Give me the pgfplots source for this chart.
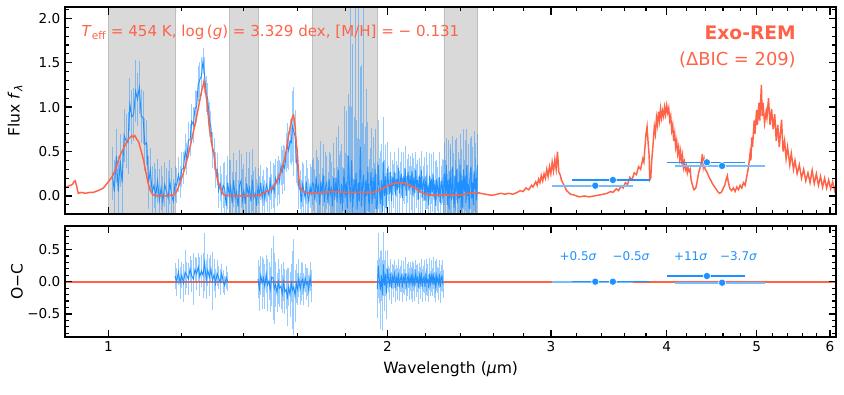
\documentclass[border=0pt]{standalone}
\usepackage{fontspec}
\setmainfont{DejaVu Sans}
\usepackage{pgfplots}
\pgfplotsset{compat=1.18}
\usepackage{pgfplotstable}
\definecolor{tomato}{RGB}{255,99,71}
\definecolor{dodger}{RGB}{30,144,255}

% observed spectrum: wavelength, flux, error
\pgfplotstableread{
l f e
1.010 0.25 0.30
1.015 0.05 0.35
1.020 0.45 0.30
1.025 0.05 0.40
1.030 0.40 0.30
1.035 0.15 0.35
1.040 0.68 0.30
1.045 0.62 0.30
1.050 0.60 0.35
1.055 1.03 0.30
1.060 0.89 0.30
1.065 0.92 0.30
1.070 1.18 0.35
1.075 1.09 0.30
1.080 1.22 0.30
1.085 0.90 0.30
1.090 0.88 0.30
1.095 0.58 0.30
1.100 0.60 0.25
1.105 0.15 0.30
1.110 0.29 0.25
1.115 0.04 0.30
1.120 0.12 0.25
1.125 0.00 0.30
1.130 0.17 0.25
1.135 -0.05 0.35
1.140 0.09 0.25
1.145 -0.07 0.30
1.150 0.13 0.25
1.155 0.06 0.25
1.160 -0.02 0.30
1.165 0.16 0.25
1.170 0.01 0.30
1.175 -0.06 0.25
1.180 0.14 0.20
1.185 0.12 0.20
1.190 0.24 0.20
1.195 0.16 0.18
1.200 0.30 0.20
1.205 0.31 0.18
1.210 0.50 0.20
1.215 0.42 0.18
1.220 0.63 0.20
1.225 0.63 0.18
1.230 0.84 0.20
1.235 0.80 0.20
1.240 0.99 0.20
1.245 1.00 0.18
1.250 1.26 0.20
1.255 1.31 0.20
1.260 1.35 0.22
1.265 1.52 0.15
1.270 1.36 0.20
1.275 1.15 0.20
1.280 1.09 0.18
1.285 0.86 0.20
1.290 0.78 0.18
1.295 0.52 0.20
1.300 0.47 0.18
1.305 0.29 0.20
1.310 0.30 0.18
1.315 0.06 0.20
1.320 0.14 0.20
1.325 0.03 0.22
1.330 0.12 0.25
1.335 0.08 0.30
1.340 -0.11 0.35
1.345 0.15 0.30
1.350 0.00 0.40
1.355 0.11 0.30
1.360 -0.08 0.35
1.365 0.18 0.30
1.370 -0.03 0.30
1.375 0.05 0.35
1.380 -0.12 0.30
1.385 0.12 0.40
1.390 0.17 0.30
1.395 -0.05 0.35
1.400 0.06 0.30
1.405 -0.09 0.30
1.410 0.14 0.35
1.415 0.01 0.30
1.420 0.09 0.40
1.425 -0.06 0.30
1.430 0.18 0.35
1.435 -0.02 0.30
1.440 0.03 0.30
1.445 -0.11 0.30
1.450 0.11 0.20
1.455 0.01 0.22
1.460 0.15 0.20
1.465 -0.03 0.25
1.470 0.09 0.20
1.475 -0.04 0.22
1.480 0.13 0.20
1.485 0.07 0.25
1.490 0.01 0.20
1.495 0.17 0.22
1.500 0.05 0.20
1.505 0.12 0.25
1.510 0.05 0.30
1.515 0.20 0.22
1.520 0.14 0.25
1.525 0.23 0.22
1.530 0.16 0.25
1.535 0.34 0.22
1.540 0.27 0.25
1.545 0.35 0.22
1.550 0.31 0.25
1.555 0.49 0.22
1.560 0.57 0.25
1.565 0.51 0.22
1.570 0.62 0.25
1.575 0.60 0.25
1.580 0.78 0.40
1.585 0.73 0.50
1.590 0.67 0.30
1.595 0.40 0.25
1.600 0.33 0.22
1.605 0.10 0.25
1.610 0.07 0.22
1.615 -0.07 0.25
1.620 0.13 0.25
1.625 0.06 0.30
1.630 -0.02 0.25
1.635 0.16 0.25
1.640 0.01 0.30
1.645 -0.06 0.25
1.650 0.11 0.25
1.655 0.03 0.30
1.660 0.15 0.25
1.665 0.13 0.30
1.670 -0.05 0.35
1.675 0.22 0.30
1.680 0.04 0.40
1.685 0.11 0.30
1.690 -0.10 0.35
1.695 0.17 0.45
1.700 0.01 0.30
1.705 0.24 0.35
1.710 -0.07 0.30
1.715 0.10 0.40
1.720 0.15 0.30
1.725 -0.08 0.35
1.730 0.19 0.30
1.735 0.02 0.45
1.740 0.08 0.30
1.745 -0.12 0.35
1.750 0.20 0.40
1.755 -0.04 0.35
1.760 0.21 0.45
1.765 -0.07 0.40
1.770 0.29 0.50
1.775 0.06 0.40
1.780 -0.09 0.60
1.785 0.14 0.45
1.790 -0.17 0.50
1.795 0.31 0.70
1.800 -0.02 0.50
1.805 0.16 0.80
1.810 -0.14 0.60
1.815 0.45 0.70
1.820 0.11 0.90
1.825 -0.07 2.20
1.830 0.40 0.60
1.835 -0.19 1.90
1.840 0.19 0.70
1.845 0.04 2.30
1.850 0.26 0.60
1.855 -0.15 0.80
1.860 0.15 2.00
1.865 -0.06 0.70
1.870 0.55 0.90
1.875 -0.12 1.60
1.880 0.12 0.70
1.885 0.24 2.30
1.890 -0.21 0.80
1.895 0.18 0.60
1.900 0.00 1.20
1.905 0.33 0.50
1.910 -0.18 0.60
1.915 0.09 0.45
1.920 0.27 0.50
1.925 -0.09 0.40
1.930 0.21 0.45
1.935 -0.03 0.40
1.940 0.30 0.45
1.945 -0.15 0.40
1.950 -0.07 0.45
1.955 0.35 0.50
1.960 0.08 0.35
1.965 -0.09 0.60
1.970 0.18 0.40
1.975 -0.18 0.55
1.980 0.39 0.50
1.985 0.00 0.40
1.990 0.22 0.35
1.995 -0.14 0.40
2.000 0.31 0.30
2.005 0.14 0.20
2.010 0.02 0.25
2.015 0.27 0.22
2.020 -0.06 0.28
2.025 0.21 0.20
2.030 0.11 0.25
2.035 0.27 0.22
2.040 0.01 0.25
2.045 0.19 0.20
2.050 0.07 0.28
2.055 0.32 0.22
2.060 0.03 0.25
2.065 0.18 0.20
2.070 0.25 0.25
2.075 -0.02 0.22
2.080 0.22 0.28
2.085 0.11 0.20
2.090 0.31 0.25
2.095 0.00 0.22
2.100 0.17 0.25
2.105 0.27 0.20
2.110 0.06 0.28
2.115 0.23 0.22
2.120 0.09 0.25
2.125 0.28 0.20
2.130 0.01 0.25
2.135 0.21 0.22
2.140 0.03 0.28
2.145 0.29 0.20
2.150 0.11 0.25
2.155 0.18 0.22
2.160 -0.04 0.25
2.165 0.23 0.20
2.170 0.06 0.28
2.175 0.29 0.22
2.180 -0.02 0.25
2.185 0.14 0.20
2.190 0.19 0.25
2.195 -0.05 0.22
2.200 0.22 0.28
2.205 0.05 0.20
2.210 0.10 0.25
2.215 -0.10 0.22
2.220 0.23 0.25
2.225 0.01 0.20
2.230 0.19 0.28
2.235 0.04 0.22
2.240 0.24 0.25
2.245 -0.04 0.22
2.250 0.14 0.25
2.255 -0.11 0.28
2.260 0.19 0.22
2.265 0.08 0.25
2.270 -0.01 0.22
2.275 0.21 0.28
2.280 -0.08 0.25
2.285 0.12 0.22
2.290 0.17 0.25
2.295 -0.03 0.28
2.300 0.10 0.30
2.305 0.25 0.35
2.310 0.00 0.40
2.315 0.35 0.30
2.320 -0.10 0.35
2.325 0.18 0.45
2.330 -0.15 0.35
2.335 0.28 0.30
2.340 0.13 0.40
2.345 -0.05 0.35
2.350 0.33 0.35
2.355 0.03 0.45
2.360 -0.13 0.35
2.365 0.23 0.40
2.370 0.05 0.35
2.375 0.30 0.35
2.380 -0.08 0.40
2.385 0.15 0.35
2.390 -0.03 0.45
2.395 0.35 0.35
2.400 -0.15 0.40
2.405 0.18 0.35
2.410 -0.13 0.35
2.415 0.30 0.45
2.420 0.05 0.35
2.425 0.23 0.40
2.430 -0.08 0.35
2.435 0.35 0.40
2.440 0.00 0.35
2.445 0.13 0.45
2.450 -0.15 0.35
2.455 0.25 0.40
2.460 0.33 0.35
2.465 -0.03 0.35
2.470 0.15 0.40
2.475 -0.10 0.35
2.480 0.28 0.45
2.485 0.08 0.35
2.490 0.20 0.40
2.495 -0.05 0.35
2.500 0.35 0.35
}\spec

% residuals in the three fitted windows: wavelength, O-C, error
\pgfplotstableread{
l r e
1.180 0.09 0.20
1.185 0.00 0.22
1.190 0.15 0.20
1.195 -0.02 0.25
1.200 0.10 0.20
1.205 -0.02 0.30
1.210 0.15 0.35
1.215 0.10 0.20
1.220 0.04 0.25
1.225 0.20 0.20
1.230 0.09 0.25
1.235 0.04 0.40
1.240 0.19 0.20
1.245 0.12 0.25
1.250 0.23 0.22
1.255 0.08 0.30
1.260 0.17 0.25
1.265 0.10 0.35
1.270 0.30 0.45
1.275 0.03 0.30
1.280 0.18 0.25
1.285 0.07 0.30
1.290 0.20 0.22
1.295 0.01 0.45
1.300 0.11 0.25
1.305 -0.03 0.22
1.310 0.13 0.20
1.315 0.06 0.18
1.320 -0.01 0.20
1.325 0.13 0.15
1.330 0.00 0.18
1.335 -0.06 0.15
1.340 0.07 0.18
1.345 0.00 0.15
}\resA
\pgfplotstableread{
l r e
1.450 0.04 0.30
1.455 -0.11 0.35
1.460 0.10 0.30
1.465 -0.02 0.40
1.470 0.06 0.30
1.475 -0.08 0.35
1.480 0.12 0.30
1.485 -0.05 0.40
1.490 0.01 0.30
1.495 -0.12 0.35
1.500 0.07 0.45
1.505 0.06 0.65
1.510 -0.11 0.55
1.515 -0.04 0.35
1.520 -0.17 0.30
1.525 0.00 0.35
1.530 -0.10 0.30
1.535 -0.07 0.35
1.540 -0.19 0.30
1.545 0.00 0.30
1.550 -0.16 0.35
1.555 -0.12 0.30
1.560 -0.24 0.45
1.565 -0.08 0.30
1.570 -0.20 0.35
1.575 -0.02 0.30
1.580 -0.13 0.60
1.585 -0.08 0.75
1.590 -0.22 0.40
1.595 -0.03 0.30
1.600 -0.12 0.25
1.605 0.06 0.30
1.610 -0.12 0.25
1.615 0.00 0.30
1.620 0.04 0.25
1.625 -0.12 0.25
1.630 0.06 0.22
1.635 -0.04 0.25
1.640 -0.01 0.22
1.645 -0.14 0.25
1.650 0.08 0.22
1.655 -0.07 0.25
}\resB
\pgfplotstableread{
l r e
1.950 -0.11 0.45
1.955 0.25 0.50
1.960 0.02 0.35
1.965 -0.13 0.60
1.970 0.10 0.40
1.975 -0.21 0.55
1.980 0.27 0.50
1.985 -0.06 0.40
1.990 0.12 0.35
1.995 -0.18 0.40
2.000 0.20 0.30
2.005 0.04 0.20
2.010 -0.04 0.25
2.015 0.13 0.22
2.020 -0.10 0.25
2.025 0.08 0.20
2.030 0.01 0.25
2.035 0.12 0.22
2.040 -0.06 0.25
2.045 0.06 0.20
2.050 -0.03 0.25
2.055 0.14 0.22
2.060 -0.05 0.25
2.065 0.04 0.20
2.070 0.09 0.25
2.075 -0.09 0.22
2.080 0.07 0.25
2.085 0.00 0.20
2.090 0.13 0.25
2.095 -0.08 0.22
2.100 0.03 0.25
2.105 0.10 0.20
2.110 -0.04 0.25
2.115 0.08 0.22
2.120 -0.02 0.25
2.125 0.12 0.20
2.130 -0.06 0.25
2.135 0.07 0.22
2.140 -0.05 0.25
2.145 0.13 0.20
2.150 0.01 0.25
2.155 0.06 0.22
2.160 -0.09 0.25
2.165 0.09 0.20
2.170 -0.02 0.25
2.175 0.14 0.22
2.180 -0.06 0.25
2.185 0.04 0.20
2.190 0.08 0.25
2.195 -0.08 0.22
2.200 0.10 0.25
2.205 0.00 0.20
2.210 0.03 0.25
2.215 -0.10 0.22
2.220 0.12 0.25
2.225 -0.03 0.20
2.230 0.09 0.25
2.235 0.00 0.22
2.240 0.13 0.25
2.245 -0.05 0.20
2.250 0.07 0.25
2.255 -0.10 0.22
2.260 0.10 0.25
2.265 0.03 0.20
2.270 -0.03 0.25
2.275 0.12 0.22
2.280 -0.08 0.25
2.285 0.06 0.20
2.290 0.09 0.25
2.295 -0.04 0.22
}\resC

\pgfplotsset{every axis/.append style={
    scale only axis, width=578.25pt,
    xmode=log, xmin=0.898, xmax=6.09,
    xtick={1,2,3,4,5,6},
    minor xtick={1.2,1.4,1.6,1.8,2.2,2.4,2.6,2.8,3.2,3.4,3.6,3.8,4.2,4.4,4.6,4.8,5.2,5.4,5.6,5.8},
    tick align=inside,
    major tick length=5.5pt, minor tick length=3pt,
    every major tick/.append style={line width=1.1pt, black},
    every minor tick/.append style={line width=0.8pt, black},
    axis line style={line width=1.5pt},
    tick label style={font=\fontsize{10.2}{12}\selectfont},
    axis on top}}

\begin{document}
\begin{tikzpicture}
\useasboundingbox (0,0) rectangle (633pt,295.5pt);

\begin{axis}[at={(48.75pt,135pt)}, anchor=south west, height=155pt,
  ymin=-0.203, ymax=2.124,
  ytick={0,0.5,1,1.5,2}, yticklabels={0.0,0.5,1.0,1.5,2.0},
  minor ytick={-0.1,0.1,0.2,0.3,0.4,0.6,0.7,0.8,0.9,1.1,1.2,1.3,1.4,1.6,1.7,1.8,1.9,2.1},
  xticklabels={,,,,,}]
% telluric regions
\addplot[fill=gray!30, draw=gray!50, line width=0.4pt] coordinates {(1.00,-0.3) (1.00,2.3) (1.18,2.3) (1.18,-0.3) (1.00,-0.3)};
\addplot[fill=gray!30, draw=gray!50, line width=0.4pt] coordinates {(1.35,-0.3) (1.35,2.3) (1.45,2.3) (1.45,-0.3) (1.35,-0.3)};
\addplot[fill=gray!30, draw=gray!50, line width=0.4pt] coordinates {(1.66,-0.3) (1.66,2.3) (1.95,2.3) (1.95,-0.3) (1.66,-0.3)};
\addplot[fill=gray!30, draw=gray!50, line width=0.4pt] coordinates {(2.30,-0.3) (2.30,2.3) (2.50,2.3) (2.50,-0.3) (2.30,-0.3)};
% observed spectrum
\addplot[dodger, draw opacity=0, mark=none, error bars/.cd, y dir=both, y explicit, error mark=none,
  error bar style={draw=dodger, draw opacity=0.45, line width=0.6pt}] table[x=l, y=f, y error=e] {\spec};
\addplot[dodger, line width=0.7pt] table[x=l, y=f] {\spec};
% Exo-REM model
\addplot[tomato, line width=1.1pt] coordinates {
(0.900,0.10) (0.905,0.11) (0.910,0.12) (0.915,0.13) (0.918,0.16) (0.921,0.17) (0.924,0.12) (0.928,0.03)
(0.935,0.04) (0.945,0.03) (0.955,0.04) (0.963,0.04) (0.975,0.06) (0.988,0.09) (1.000,0.16) (1.010,0.22)
(1.017,0.29) (1.023,0.37) (1.030,0.46) (1.040,0.55) (1.047,0.61) (1.053,0.65) (1.060,0.68) (1.064,0.66)
(1.068,0.68) (1.073,0.64) (1.078,0.61) (1.084,0.52) (1.091,0.41) (1.098,0.26) (1.104,0.14) (1.110,0.06)
(1.118,0.01) (1.130,0.00) (1.150,0.00) (1.175,0.01) (1.185,0.05) (1.195,0.15) (1.205,0.26) (1.215,0.40)
(1.225,0.55) (1.235,0.72) (1.245,0.89) (1.253,1.04) (1.261,1.19) (1.266,1.25) (1.268,1.29) (1.271,1.22)
(1.276,1.10) (1.280,0.98) (1.284,0.80) (1.287,0.72) (1.290,0.68) (1.294,0.56) (1.300,0.48) (1.304,0.34)
(1.309,0.22) (1.314,0.15) (1.320,0.10) (1.327,0.04) (1.333,0.01) (1.360,0.00) (1.400,0.00) (1.430,0.00)
(1.458,0.01) (1.475,0.04) (1.494,0.07) (1.506,0.10) (1.520,0.17) (1.535,0.27) (1.545,0.37) (1.555,0.50)
(1.564,0.67) (1.572,0.79) (1.577,0.86) (1.581,0.90) (1.584,0.91) (1.587,0.85) (1.590,0.78) (1.595,0.58)
(1.599,0.48) (1.605,0.20) (1.610,0.10) (1.620,0.05) (1.635,0.04) (1.650,0.03) (1.700,0.04) (1.750,0.05)
(1.800,0.04) (1.850,0.04) (1.900,0.04) (1.931,0.04) (1.955,0.06) (1.980,0.09) (2.005,0.12) (2.030,0.14)
(2.063,0.15) (2.090,0.14) (2.115,0.12) (2.140,0.09) (2.168,0.05) (2.195,0.02) (2.223,0.01) (2.300,0.01)
(2.394,0.01) (2.450,0.03) (2.496,0.04) (2.520,0.03) (2.580,0.01) (2.600,0.01) (2.650,0.03) (2.680,0.02)
(2.700,0.03) (2.730,0.02) (2.760,0.04) (2.780,0.06) (2.800,0.05) (2.820,0.09) (2.840,0.07) (2.860,0.12)
(2.870,0.10) (2.890,0.16) (2.900,0.12) (2.910,0.19) (2.920,0.15) (2.930,0.23) (2.940,0.17) (2.950,0.25)
(2.960,0.20) (2.970,0.30) (2.980,0.22) (2.990,0.33) (3.000,0.25) (3.010,0.38) (3.020,0.28) (3.030,0.41)
(3.040,0.30) (3.050,0.50) (3.060,0.27) (3.070,0.24) (3.080,0.18) (3.100,0.12) (3.120,0.06) (3.150,0.02)
(3.180,0.01) (3.220,-0.01) (3.260,0.00) (3.300,-0.01) (3.340,0.00) (3.380,0.01) (3.420,0.02) (3.450,0.03)
(3.480,0.05) (3.500,0.04) (3.530,0.08) (3.550,0.06) (3.570,0.11) (3.590,0.09) (3.610,0.15) (3.630,0.13)
(3.650,0.21) (3.670,0.18) (3.690,0.26) (3.710,0.24) (3.730,0.33) (3.750,0.30) (3.770,0.42) (3.780,0.38)
(3.790,0.55) (3.800,0.70) (3.810,0.78) (3.820,0.60) (3.830,0.45) (3.835,0.18) (3.845,0.20) (3.855,0.40)
(3.870,0.62) (3.880,0.78) (3.890,0.70) (3.900,0.88) (3.910,0.80) (3.920,0.95) (3.930,0.85) (3.940,0.98)
(3.950,0.88) (3.960,0.96) (3.970,0.90) (3.980,1.00) (3.990,0.92) (4.000,1.02) (4.010,0.94) (4.020,0.99)
(4.030,0.85) (4.040,0.90) (4.050,0.74) (4.060,0.80) (4.070,0.62) (4.080,0.70) (4.090,0.55) (4.100,0.62)
(4.110,0.48) (4.120,0.55) (4.130,0.42) (4.140,0.50) (4.150,0.36) (4.160,0.45) (4.170,0.32) (4.180,0.38)
(4.190,0.30) (4.200,0.34) (4.210,0.26) (4.220,0.31) (4.230,0.28) (4.240,0.30) (4.250,0.18) (4.260,0.14)
(4.270,0.10) (4.280,0.07) (4.290,0.08) (4.300,0.09) (4.310,0.14) (4.320,0.20) (4.330,0.26) (4.340,0.30)
(4.350,0.33) (4.360,0.38) (4.370,0.47) (4.380,0.33) (4.390,0.40) (4.400,0.30) (4.420,0.27) (4.440,0.22)
(4.460,0.18) (4.480,0.14) (4.500,0.11) (4.520,0.08) (4.540,0.05) (4.560,0.03) (4.580,0.04) (4.600,0.08)
(4.620,0.12) (4.640,0.20) (4.650,0.23) (4.660,0.16) (4.680,0.08) (4.700,0.06) (4.720,0.09) (4.740,0.05)
(4.760,0.10) (4.780,0.07) (4.800,0.12) (4.820,0.09) (4.840,0.15) (4.860,0.12) (4.880,0.22) (4.900,0.32)
(4.920,0.48) (4.930,0.40) (4.940,0.66) (4.950,0.55) (4.970,0.85) (4.980,0.70) (5.000,0.97) (5.010,0.80)
(5.030,1.05) (5.040,0.85) (5.060,1.25) (5.070,0.90) (5.080,1.05) (5.100,0.82) (5.120,0.95) (5.130,0.88)
(5.150,1.10) (5.170,0.80) (5.190,0.98) (5.210,0.75) (5.230,0.92) (5.250,0.62) (5.270,0.80) (5.290,0.55)
(5.320,0.86) (5.340,0.50) (5.360,0.62) (5.380,0.42) (5.400,0.55) (5.430,0.35) (5.450,0.48) (5.480,0.30)
(5.500,0.40) (5.530,0.25) (5.560,0.35) (5.590,0.20) (5.620,0.30) (5.650,0.17) (5.680,0.26) (5.710,0.15)
(5.740,0.29) (5.770,0.14) (5.800,0.25) (5.830,0.12) (5.860,0.22) (5.890,0.10) (5.920,0.20) (5.950,0.09)
(5.980,0.18) (6.010,0.08) (6.040,0.16) (6.070,0.06) (6.100,0.12)
};
% photometry: W1 and W2 (lighter bars), IRAC ch1 and ch2
\addplot[dodger!60, only marks, mark=*, mark size=2.7pt, mark options={fill=dodger, draw=white, line width=0.4pt},
  error bars/.cd, x dir=both, x explicit, error mark=none, error bar style={draw=dodger!60, line width=1.4pt}]
  coordinates {(3.35,0.116) -= (0.34,0) += (0.33,0)  (4.59,0.338) -= (0.51,0) += (0.52,0)};
\addplot[dodger, only marks, mark=*, mark size=2.7pt, mark options={fill=dodger, draw=white, line width=0.4pt},
  error bars/.cd, x dir=both, x explicit, error mark=none, error bar style={draw=dodger, line width=1pt}]
  coordinates {(3.50,0.180) -= (0.34,0) += (0.34,0)  (4.42,0.379) -= (0.42,0) += (0.44,0)};
\end{axis}

\begin{axis}[at={(48.75pt,42.75pt)}, anchor=south west, height=83.25pt,
  ymin=-0.86, ymax=0.866,
  ytick={-0.5,0,0.5}, yticklabels={−0.5,0.0,0.5},
  minor ytick={-0.8,-0.7,-0.6,-0.4,-0.3,-0.2,-0.1,0.1,0.2,0.3,0.4,0.6,0.7,0.8},
  xticklabels={1,2,3,4,5,6}]
\addplot[tomato, line width=1.5pt] coordinates {(0.85,0) (6.2,0)};
\addplot[dodger, draw opacity=0, mark=none, error bars/.cd, y dir=both, y explicit, error mark=none,
  error bar style={draw=dodger, draw opacity=0.45, line width=0.6pt}] table[x=l, y=r, y error=e] {\resA};
\addplot[dodger, draw opacity=0, mark=none, error bars/.cd, y dir=both, y explicit, error mark=none,
  error bar style={draw=dodger, draw opacity=0.45, line width=0.6pt}] table[x=l, y=r, y error=e] {\resB};
\addplot[dodger, draw opacity=0, mark=none, error bars/.cd, y dir=both, y explicit, error mark=none,
  error bar style={draw=dodger, draw opacity=0.45, line width=0.6pt}] table[x=l, y=r, y error=e] {\resC};
\addplot[dodger, line width=0.7pt] table[x=l, y=r] {\resA};
\addplot[dodger, line width=0.7pt] table[x=l, y=r] {\resB};
\addplot[dodger, line width=0.7pt] table[x=l, y=r] {\resC};
\addplot[dodger!60, only marks, mark=*, mark size=2.7pt, mark options={fill=dodger, draw=white, line width=0.4pt},
  error bars/.cd, x dir=both, x explicit, error mark=none, error bar style={draw=dodger!60, line width=1.4pt}]
  coordinates {(3.35,0.0) -= (0.34,0) += (0.33,0)  (4.59,-0.016) -= (0.51,0) += (0.52,0)};
\addplot[dodger, only marks, mark=*, mark size=2.7pt, mark options={fill=dodger, draw=white, line width=0.4pt},
  error bars/.cd, x dir=both, x explicit, error mark=none, error bar style={draw=dodger, line width=1pt}]
  coordinates {(3.50,0.0) -= (0.34,0) += (0.34,0)  (4.42,0.088) -= (0.42,0) += (0.44,0)};
\node[text=dodger, font=\fontsize{9}{11}\selectfont] at (axis cs:3.210,0.40) {+0.5\textit{σ}};
\node[text=dodger, font=\fontsize{9}{11}\selectfont] at (axis cs:3.662,0.40) {−0.5\textit{σ}};
\node[text=dodger, font=\fontsize{9}{11}\selectfont] at (axis cs:4.245,0.40) {+11\textit{σ}};
\node[text=dodger, font=\fontsize{9}{11}\selectfont] at (axis cs:4.781,0.40) {−3.7\textit{σ}};
\end{axis}

% labels and annotations
\node[rotate=90, font=\fontsize{11.7}{14}\selectfont] at (11.25pt,212.55pt) {Flux \textit{f}\textsubscript{\textit{λ}}};
\node[rotate=90, font=\fontsize{11.7}{14}\selectfont] at (12.75pt,84.4pt) {O−C};
\node[font=\fontsize{11.7}{14}\selectfont] at (338pt,18.4pt) {Wavelength (\textit{μ}m)};
\node[anchor=west, inner sep=0pt, text=tomato, font=\fontsize{11.3}{13}\selectfont] at (61pt,271pt)
  {\textit{T}\textsubscript{eff} = 454 K, log\,(\textit{g}) = 3.329 dex, [M/H] = − 0.131};
\node[anchor=east, inner sep=0pt, text=tomato, font=\fontsize{14}{16}\selectfont\bfseries] at (597pt,270.75pt) {Exo-REM};
\node[anchor=east, inner sep=0pt, text=tomato, font=\fontsize{13.4}{15}\selectfont] at (597pt,250.5pt) {(ΔBIC = 209)};
\end{tikzpicture}
\end{document}
